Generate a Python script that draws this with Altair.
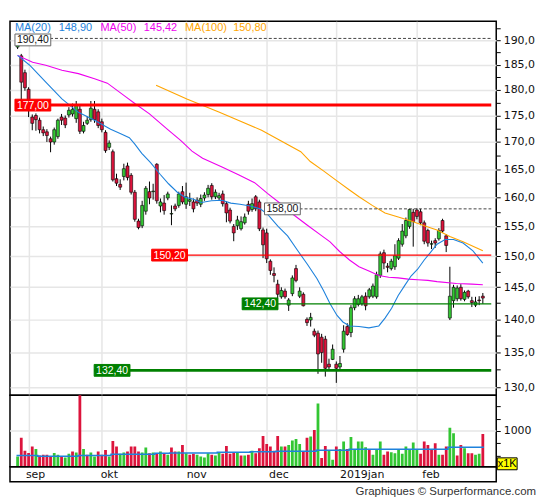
import altair as alt
import pandas as pd

# ---------------- data ----------------
OPEN = [188.6, 186.8, 183.4, 180.1, 174.7, 175.0, 174.1, 172.3, 171.9, 170.6,
        170.0, 171.0, 174.7, 174.5, 175.1, 175.3, 174.4, 176.2, 172.0, 173.5,
        174.2, 176.2, 175.7, 173.8, 171.8, 169.0, 168.2, 163.3, 162.3, 163.7,
        165.6, 163.9, 160.9, 155.9, 155.1, 157.6, 161.0, 161.0, 165.9, 158.5,
        159.0, 159.9, 157.1, 158.5, 158.6, 161.0, 158.8, 159.3, 159.2, 159.5,
        158.8, 159.9, 160.5, 162.1, 160.1, 159.9, 160.6, 158.9, 157.8, 155.0,
        155.1, 154.6, 155.6, 158.8, 157.9, 160.1, 159.2, 154.4, 153.9, 149.2,
        147.2, 145.5, 143.5, 144.4, 142.2, 144.0, 148.0, 143.6, 143.9, 140.0,
        139.9, 138.2, 137.9, 137.3, 137.0, 133.3, 134.0, 133.3, 132.9, 135.5,
        138.9, 138.0, 141.8, 142.3, 142.4, 143.6, 143.5, 143.6, 143.5, 146.9,
        150.6, 148.4, 148.0, 148.3, 149.7, 152.0, 153.4, 155.0, 157.4, 157.8,
        157.5, 155.6, 154.3, 152.0, 152.6, 152.9, 156.0, 153.4, 140.2, 142.9,
        143.2, 145.0, 143.1, 144.4, 142.9, 142.2, 143.0, 143.6]
HIGH = [190.4, 187.2, 184.0, 180.5, 175.2, 175.4, 174.6, 172.9, 172.4, 171.0,
        172.7, 174.4, 175.3, 175.0, 176.6, 177.3, 177.8, 177.0, 173.8, 174.8,
        177.8, 177.8, 176.2, 174.4, 172.2, 170.3, 168.6, 164.2, 163.2, 166.0,
        166.2, 164.3, 161.3, 156.3, 159.4, 162.0, 162.8, 162.4, 166.1, 159.8,
        160.4, 161.0, 158.6, 158.9, 161.0, 162.0, 162.6, 160.8, 159.8, 160.0,
        160.5, 160.9, 162.2, 162.5, 161.4, 160.8, 161.2, 159.3, 158.2, 155.4,
        156.8, 156.7, 157.2, 159.4, 159.8, 160.4, 159.6, 154.8, 154.6, 149.5,
        148.2, 146.2, 145.0, 144.8, 143.3, 146.9, 148.6, 145.0, 144.2, 140.3,
        141.0, 138.6, 138.3, 137.8, 137.5, 134.1, 136.2, 133.7, 134.5, 139.1,
        139.4, 142.2, 143.6, 143.8, 143.8, 144.2, 144.9, 145.6, 147.5, 150.8,
        151.1, 148.9, 149.6, 152.0, 153.0, 155.4, 156.5, 158.0, 158.0, 158.1,
        158.0, 156.0, 154.6, 152.6, 153.0, 154.7, 156.3, 153.7, 148.3, 145.4,
        145.3, 145.5, 144.5, 144.6, 143.5, 143.5, 143.6, 144.1]
LOW = [188.2, 178.0, 179.8, 174.7, 172.2, 172.1, 171.6, 171.1, 170.0, 168.1,
       169.5, 170.6, 173.2, 172.6, 174.6, 174.8, 173.6, 171.5, 171.6, 173.2,
       173.8, 173.6, 172.6, 171.8, 168.0, 168.5, 162.8, 162.0, 161.3, 163.0,
       163.0, 160.5, 155.8, 154.5, 154.7, 157.0, 158.8, 159.6, 158.9, 157.4,
       157.0, 159.5, 155.2, 157.6, 158.2, 158.8, 158.0, 158.5, 157.4, 158.5,
       158.3, 159.4, 160.0, 159.6, 159.7, 159.5, 158.4, 155.7, 155.5, 152.5,
       154.4, 154.3, 155.3, 157.0, 157.5, 157.6, 154.2, 149.7, 148.9, 147.0,
       145.8, 143.3, 143.2, 143.2, 141.3, 143.6, 145.8, 143.3, 142.0, 139.0,
       138.9, 137.3, 131.9, 133.5, 131.5, 132.4, 133.9, 130.6, 132.4, 135.0,
       137.5, 137.3, 141.4, 142.0, 142.1, 141.4, 143.2, 143.3, 143.2, 146.5,
       147.9, 147.4, 147.7, 147.8, 149.4, 151.6, 153.0, 154.6, 151.6, 156.2,
       155.2, 152.0, 151.6, 151.2, 151.4, 152.6, 153.9, 150.7, 139.9, 141.8,
       142.8, 142.9, 142.8, 143.2, 141.9, 141.9, 142.2, 142.4]
CLOSE = [189.4, 181.5, 180.4, 176.0, 173.5, 174.2, 172.3, 171.7, 171.2, 170.0,
         172.3, 174.1, 174.1, 173.2, 176.0, 176.2, 177.0, 172.0, 173.1, 174.1,
         176.4, 174.2, 173.1, 172.3, 168.4, 169.8, 163.1, 162.5, 161.8, 165.1,
         163.5, 160.9, 156.2, 154.8, 158.6, 161.6, 159.9, 161.1, 159.4, 159.2,
         157.7, 160.6, 157.2, 158.0, 160.6, 159.2, 160.1, 159.6, 158.0, 159.0,
         159.8, 160.4, 161.6, 160.1, 160.9, 160.3, 158.9, 157.3, 155.9, 153.9,
         156.1, 155.8, 156.6, 157.6, 158.9, 158.0, 154.6, 151.9, 149.6, 147.7,
         146.9, 143.9, 144.5, 143.5, 143.0, 146.5, 146.1, 144.4, 142.1, 139.5,
         140.3, 137.6, 134.8, 135.0, 132.7, 132.9, 135.5, 132.7, 133.4, 138.2,
         137.7, 141.8, 143.2, 143.2, 143.5, 142.1, 144.6, 145.2, 147.0, 150.4,
         148.9, 148.2, 149.2, 150.1, 152.6, 154.2, 156.0, 157.9, 155.8, 156.7,
         155.6, 152.5, 152.2, 152.1, 152.2, 154.3, 154.2, 151.8, 143.6, 145.0,
         144.9, 143.2, 144.2, 143.5, 142.6, 142.7, 142.9, 143.3]

VOLUME = [482, 865, 597, 556, 684, 637, 502, 516, 516, 489,
          556, 516, 489, 462, 536, 583, 563, 1800, 637, 516,
          563, 482, 583, 516, 617, 482, 798, 684, 536, 563,
          583, 684, 684, 583, 563, 664, 550, 563, 550, 583,
          550, 516, 664, 583, 583, 718, 550, 516, 536, 516,
          482, 462, 550, 516, 502, 570, 536, 698, 536, 570,
          570, 502, 502, 516, 597, 550, 651, 899, 738, 684,
          597, 899, 684, 684, 718, 805, 839, 738, 583, 865,
          886, 1020, 1558, 450, 698, 617, 415, 684, 637, 785,
          637, 880, 637, 785, 785, 671, 617, 516, 617, 785,
          516, 583, 570, 550, 617, 536, 684, 617, 765, 617,
          536, 785, 718, 617, 752, 516, 516, 684, 1067, 953,
          502, 718, 651, 550, 550, 516, 536, 940]
VOL_DIR = list("grrrrgrrrr" "ggrggrgrgr" "ggrrrgrrgg" "rrrrggrgrg" "rgrrgrgrrg"
               "gggrggrrrr" "grgrgrrrrr" "rrgrggggrr" "grgrrggrgg" "rgggggrggg"
               "rrgggggggg" "rrrrrgrrgg" "rrgrrggr")

VOL_MA_X = [-0.3, 5.5, 16.5, 25.5, 37.5, 41.5, 54.5, 63.5, 70.5, 81.5, 90.5, 117.5, 127.3]
VOL_MA_Y = [505, 488, 505, 530, 548, 556, 570, 578, 591, 611, 630, 672, 672]

MA20_X = [0, 3.3, 7.7, 12.1, 16.6, 21, 25.4, 28, 30.5, 32, 33.9, 36.3, 38.9, 41.2,
          43.6, 45.8, 47.8, 50.2, 52.9, 55.8, 58.2, 60.7, 63.5, 66.2, 68.2, 71.1,
          73.7, 76.4, 79.1, 81.7, 83.5, 85.3, 87.2, 88.8, 90.6, 93.2, 95.9, 98.6,
          100.3, 102.1, 103.9, 105.7, 107.4, 109.2, 111, 112.5, 114.5, 116.7, 119,
          121.6, 124.3, 127]
MA20_Y = [186.9, 184.9, 181.5, 178.2, 175.6, 174.1, 172.4, 171.6, 170.8, 169.6, 167.9,
          166.2, 164.1, 162.4, 160.9, 160.0, 159.7, 159.1, 159.4, 159.5, 159.0, 158.8,
          158.5, 158.0, 157.1, 155.0, 153.4, 151.0, 148.7, 146.4, 144.5, 142.4, 140.6,
          139.6, 139.0, 138.9, 138.7, 139.0, 140.2, 141.7, 143.7, 145.3, 146.8, 147.9,
          149.4, 150.5, 152.0, 152.8, 152.8, 152.2, 150.9, 148.9]

MA50_X = [0, 4.1, 7.7, 12.1, 16.6, 21, 24.5, 29, 32, 36, 41, 44.5, 47.6, 50.5, 55.8,
          60.3, 64.7, 68.2, 72, 75.5, 79.1, 82.6, 85.3, 87.9, 90.6, 93.2, 95.9, 98.6,
          101.3, 103.9, 106.6, 109.2, 112, 114.5, 119.8, 124, 127]
MA50_Y = [186.9, 185.5, 184.9, 183.9, 183.2, 182.2, 181.3, 178.9, 177.3, 175.3, 172.3,
          170.3, 168.3, 167.0, 165.4, 164.0, 162.6, 160.7, 158.8, 156.9, 155.2, 153.6,
          152.4, 150.8, 149.4, 148.3, 147.6, 146.9, 146.6, 146.5, 146.3, 146.2, 146.1,
          145.9, 145.6, 145.5, 145.4]

MA100_X = [37.8, 46.2, 55.1, 66.6, 77.3, 79.9, 83.5, 87, 90.6, 93.2, 96.8, 100.3,
           103.9, 107.4, 111, 114.5, 118, 121.6, 125.2, 127]
MA100_Y = [180.9, 178.2, 175.6, 172.2, 168.2, 166.4, 164.7, 163.0, 161.3, 160.1, 158.6,
           157.3, 156.6, 155.9, 155.1, 154.4, 153.3, 152.4, 151.4, 150.9]

LEVELS = [190.4, 177.0, 158.0, 150.2, 142.4, 132.4]
LEVEL_LABELS = ["190,40", "177,00", "158,00", "150,20", "142,40", "132,40"]
LEVEL_START = [-0.72, -0.72, 67.4, 36.6, 61.3, 20.9]

LEGEND_TEXT = ["MA(20)", "148,90", "MA(50)", "145,42", "MA(100)", "150,80"]

MONTH_IDX = [3, 23, 46, 68, 87, 109]
MONTH_LBL = ["sep", "okt", "nov", "dec", "2019jan", "feb"]

PRICE_TICKS = [130, 132.5, 135, 137.5, 140, 142.5, 145, 147.5, 150, 152.5, 155, 157.5,
               160, 162.5, 165, 167.5, 170, 172.5, 175, 177.5, 180, 182.5, 185, 187.5,
               190, 192.5]
VOL_TICKS = [500, 750, 1000, 1250, 1500]

# ---------------- layout / style ----------------
XDOM = [-0.72, 129.3]
PDOM = [128.85, 194.0]
VDOM = [274, 1726]
W, H_PRICE, H_VOL, H_STRIP = 489, 376, 72, 15
RED, GREEN = "#dc143c", "#33c633"
BLUE, MAGENTA, ORANGE = "#1e82dc", "#ee00ee", "#ffa500"
GRID = "#e6e6e6"
AXFONT = "DejaVu Sans"
TXFONT = "Liberation Sans"
BOX_W = 36
BOX_PATH = "M-1,-0.33L1,-0.33L1,0.33L-1,0.33Z"
LEVEL_STYLE = [
    dict(line="#444", width=1, dash=[3, 2], fill="#ffffff", stroke="#666666", text="#111111", after_box=True, yoff=1.5),
    dict(line="#ff0000", width=3, dash=None, fill="#ff0000", stroke="#ff0000", text="#ffffff", after_box=False, yoff=0),
    dict(line="#444", width=1, dash=[3, 2], fill="#ffffff", stroke="#666666", text="#111111", after_box=True, yoff=0),
    dict(line="#ff0000", width=1.2, dash=None, fill="#ff0000", stroke="#ff0000", text="#ffffff", after_box=False, yoff=0),
    dict(line="#008000", width=1.2, dash=None, fill="#008000", stroke="#008000", text="#ffffff", after_box=False, yoff=0),
    dict(line="#008000", width=3, dash=None, fill="#008000", stroke="#008000", text="#ffffff", after_box=False, yoff=0),
]
LEGEND_STYLE = [(5, BLUE), (49, BLUE), (91, MAGENTA), (134.5, MAGENTA), (176, ORANGE), (224.5, ORANGE)]
PX_PER_IDX = W / (XDOM[1] - XDOM[0])

xscale = alt.Scale(domain=XDOM, nice=False, zero=False)
xaxis = alt.Axis(values=MONTH_IDX, grid=True, gridColor=GRID, gridWidth=1.5, labels=False,
                 ticks=False, domain=False, title=None)
pscale = alt.Scale(type="log", domain=PDOM, nice=False, zero=False)
paxis = alt.Axis(orient="right", values=PRICE_TICKS,
                 labelExpr="datum.value % 5 == 0 ? replace(format(datum.value, '.1f'), '.', ',') : ''",
                 grid=True, gridColor=GRID, gridWidth=1.5,
                 gridOpacity={"condition": {"test": "datum.value % 5 == 0", "value": 1}, "value": 0},
                 tickSize=4, tickColor="#000",
                 labelPadding=3, domain=False, title=None, labelFont=AXFONT,
                 labelFontSize=11, labelColor="#111")
vscale = alt.Scale(domain=VDOM, nice=False, zero=False)
vaxis = alt.Axis(orient="right", values=VOL_TICKS,
                 labelExpr="datum.value == 1000 ? '1000' : ''",
                 grid=False, tickSize=4, tickColor="#000", labelPadding=3, domain=False,
                 title=None, labelFont=AXFONT, labelFontSize=11, labelColor="#111")


def X(field="i"):
    return alt.X(f"{field}:Q", scale=xscale, axis=xaxis)


def YP(field):
    return alt.Y(f"{field}:Q", scale=pscale, axis=paxis)


def YV(field):
    return alt.Y(f"{field}:Q", scale=vscale, axis=vaxis)


N = len(OPEN)
candles = pd.DataFrame({"i": list(range(N)), "o": OPEN, "h": HIGH, "l": LOW, "c": CLOSE})
candles["col"] = [GREEN if c >= o else RED for o, c in zip(OPEN, CLOSE)]

wicks = alt.Chart(candles).mark_rule(color="#000", strokeWidth=1, clip=True).encode(
    x=X(), y=YP("l"), y2="h")
bodies = alt.Chart(candles).mark_bar(size=3, stroke="#000", strokeWidth=0.6, clip=True).encode(
    x=X(), y=YP("o"), y2="c", color=alt.Color("col:N", scale=None))


def ma_layer(xs, ys, color):
    df = pd.DataFrame({"i": xs, "v": ys})
    return alt.Chart(df).mark_line(color=color, strokeWidth=1.1, clip=True).encode(
        x=X(), y=YP("v"))


layers = [wicks, bodies,
          ma_layer(MA100_X, MA100_Y, ORANGE),
          ma_layer(MA50_X, MA50_Y, MAGENTA),
          ma_layer(MA20_X, MA20_Y, BLUE)]

for lvl, lab, start, st in zip(LEVELS, LEVEL_LABELS, LEVEL_START, LEVEL_STYLE):
    x1 = start + (BOX_W / PX_PER_IDX if st["after_box"] else 0)
    df = pd.DataFrame({"x1": [x1], "x2": [XDOM[1]], "v": [lvl], "s": [start], "t": [lab]})
    rule_kwargs = dict(color=st["line"], strokeWidth=st["width"], clip=True)
    if st["dash"]:
        rule_kwargs["strokeDash"] = st["dash"]
    layers.append(alt.Chart(df).mark_rule(**rule_kwargs).encode(x=X("x1"), x2="x2", y=YP("v")))
    layers.append(alt.Chart(df).mark_point(shape=BOX_PATH, size=BOX_W ** 2, filled=True, opacity=1,
                                           fill=st["fill"], stroke=st["stroke"], strokeWidth=1,
                                           xOffset=BOX_W / 2, yOffset=st["yoff"]).encode(
        x=X("s"), y=YP("v")))
    layers.append(alt.Chart(df).mark_text(font=TXFONT, fontSize=10.5, align="center", baseline="middle",
                                          dx=BOX_W / 2, dy=0.5 + st["yoff"], color=st["text"]).encode(
        x=X("s"), y=YP("v"), text="t:N"))

dummy = pd.DataFrame({"a": [0]})
for txt, (px, col) in zip(LEGEND_TEXT, LEGEND_STYLE):
    layers.append(alt.Chart(dummy).mark_text(text=txt, font=TXFONT, fontSize=11, align="left",
                                             baseline="alphabetic", color=col).encode(
        x=alt.value(px), y=alt.value(10)))

price = alt.layer(*layers).properties(width=W, height=H_PRICE)

# ---------------- volume ----------------
vol = pd.DataFrame({"i": list(range(N)), "vol": VOLUME,
                    "col": [GREEN if d == "g" else RED for d in VOL_DIR]})
vgrid = alt.Chart(pd.DataFrame({"g": [1000]})).mark_rule(color=GRID, strokeWidth=1.5).encode(
    y=YV("g"))
vbars = alt.Chart(vol).mark_bar(size=2.8, clip=True).encode(
    x=X(), y=YV("vol"), y2=alt.datum(VDOM[0]), color=alt.Color("col:N", scale=None))
vma = alt.Chart(pd.DataFrame({"i": VOL_MA_X, "v": VOL_MA_Y})).mark_line(
    interpolate="step-after", color=BLUE, strokeWidth=1.5, clip=True).encode(x=X(), y=YV("v"))
kbox = alt.Chart(dummy).mark_point(shape="M-1,-0.6L1,-0.6L1,0.6L-1,0.6Z", size=400, filled=True,
                                   opacity=1, fill="#ffff00", stroke="#000", strokeWidth=1).encode(
    x=alt.value(W + 11), y=alt.value(H_VOL - 3))
ktxt = alt.Chart(dummy).mark_text(text="x1K", font=TXFONT, fontSize=11, align="center",
                                  baseline="middle", color="#000").encode(
    x=alt.value(W + 11), y=alt.value(H_VOL - 2.5))
volume = alt.layer(vgrid, vbars, vma, kbox, ktxt).properties(width=W, height=H_VOL)

# ---------------- month strip ----------------
months = pd.DataFrame({"i": MONTH_IDX, "t": MONTH_LBL})
mtext = alt.Chart(months).mark_text(font=AXFONT, fontSize=11, align="left", baseline="middle",
                                    dx=2, color="#111").encode(
    x=alt.X("i:Q", scale=xscale, axis=None), y=alt.value(H_STRIP / 2 + 0.5), text="t:N")
credit = alt.Chart(dummy).mark_text(text="Graphiques \u00a9 Surperformance.com", font=TXFONT,
                                    fontSize=11.5, align="right", baseline="middle",
                                    color="#333").encode(
    x=alt.value(529), y=alt.value(H_STRIP + 10))
strip = alt.layer(mtext, credit).properties(width=W, height=H_STRIP)

chart = alt.vconcat(price, volume, strip, spacing=0, bounds="flush").properties(
    padding={"left": 0, "top": 11, "right": 0, "bottom": 0},
    background="#ffffff",
).configure_view(stroke="#000", strokeWidth=1.5).configure_concat(spacing=0)

chart.save("out.html", embed_options={"renderer": "svg", "actions": False})
